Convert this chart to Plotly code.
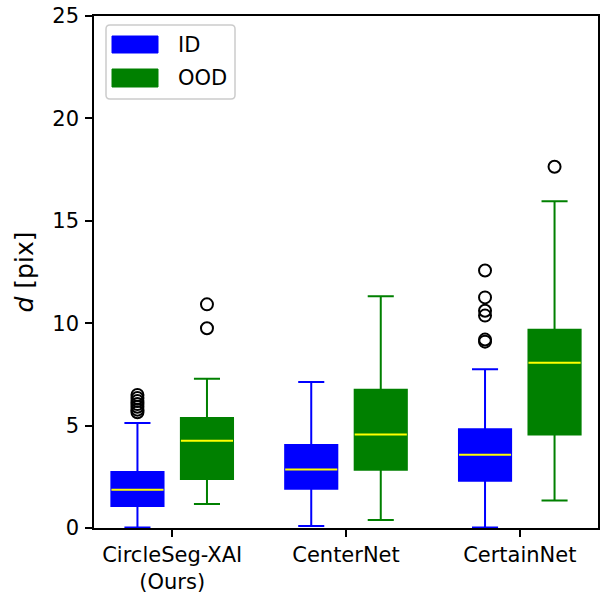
import plotly.graph_objects as go

# ---- data ----
groups = ["CircleSeg-XAI<br>(Ours)", "CenterNet", "CertainNet"]
positions = [1, 2, 3]

id_lower = [0.02, 0.10, 0.02]
id_q1 = [1.07, 1.92, 2.31]
id_med = [1.87, 2.86, 3.58]
id_q3 = [2.73, 4.05, 4.82]
id_upper = [5.13, 7.13, 7.75]
id_outliers = [[5.65, 5.78, 5.92, 6.05, 6.2, 6.35, 6.5], [], [9.1, 9.2, 10.37, 10.61, 11.26, 12.57]]

ood_lower = [1.17, 0.39, 1.34]
ood_q1 = [2.39, 2.85, 4.56]
ood_med = [4.26, 4.57, 8.07]
ood_q3 = [5.37, 6.75, 9.68]
ood_upper = [7.29, 11.31, 15.95]
ood_outliers = [[9.75, 10.92], [], [17.64]]

series = [
    dict(name="ID", color="#0000ff", offset=-0.2, lower=id_lower, q1=id_q1, med=id_med,
         q3=id_q3, upper=id_upper, out=id_outliers),
    dict(name="OOD", color="#008000", offset=0.2, lower=ood_lower, q1=ood_q1, med=ood_med,
         q3=ood_q3, upper=ood_upper, out=ood_outliers),
]
BOX_W = 0.3
FONT = "DejaVu Sans"
FS = 21

fig = go.Figure()
for s in series:
    xs = [p + s["offset"] for p in positions]
    fig.add_trace(go.Box(
        x=xs, q1=s["q1"], median=s["med"], q3=s["q3"],
        lowerfence=s["lower"], upperfence=s["upper"],
        width=BOX_W, whiskerwidth=0.5,
        fillcolor=s["color"], line=dict(color=s["color"], width=2),
        boxpoints=False, name=s["name"], showlegend=False,
    ))
    # yellow median lines
    mx, my = [], []
    for x, m in zip(xs, s["med"]):
        mx += [x - BOX_W / 2, x + BOX_W / 2, None]
        my += [m, m, None]
    fig.add_trace(go.Scatter(x=mx, y=my, mode="lines", line=dict(color="#ffff00", width=2),
                             showlegend=False, hoverinfo="skip"))
    # outliers
    ox, oy = [], []
    for x, vals in zip(xs, s["out"]):
        ox += [x] * len(vals)
        oy += vals
    fig.add_trace(go.Scatter(x=ox, y=oy, mode="markers",
                             marker=dict(symbol="circle-open", size=12, color="black",
                                         line=dict(width=2, color="black")),
                             showlegend=False))

W, H = 616, 594
L, R, T, B = 94, 18, 16, 66
PW, PH = float(W - L - R), float(H - T - B)

def px(xp):  # pixel x -> paper
    return (xp - L) / PW
def py(yp):  # pixel y -> paper
    return (H - B - yp) / PH

x0, x1, y0, y1 = px(106), px(235), py(99), py(25)
rx, ry = 4 / PW, 4 / PH
path = (f"M {x0+rx},{y0} L {x1-rx},{y0} Q {x1},{y0} {x1},{y0+ry} L {x1},{y1-ry} "
        f"Q {x1},{y1} {x1-rx},{y1} L {x0+rx},{y1} Q {x0},{y1} {x0},{y1-ry} "
        f"L {x0},{y0+ry} Q {x0},{y0} {x0+rx},{y0} Z")
shapes = [dict(type="path", xref="paper", yref="paper", path=path,
               fillcolor="rgba(255,255,255,0.8)", line=dict(color="#cccccc", width=1.5))]
annotations = []
for s, (ty0, ty1) in zip(series, [(36, 53), (69, 87)]):
    shapes.append(dict(type="rect", xref="paper", yref="paper",
                       x0=px(112), x1=px(158), y0=py(ty1), y1=py(ty0),
                       fillcolor=s["color"], line=dict(color=s["color"], width=1)))
    annotations.append(dict(xref="paper", yref="paper", x=px(176), y=py((ty0 + ty1) / 2),
                            text=s["name"], showarrow=False, xanchor="left", yanchor="middle",
                            font=dict(family=FONT, size=FS, color="black")))

fig.update_layout(
    width=W, height=H,
    margin=dict(l=L, r=R, t=T, b=B, autoexpand=False),
    paper_bgcolor="white", plot_bgcolor="white",
    font=dict(family=FONT, size=FS, color="black"),
    showlegend=False,
    shapes=shapes, annotations=annotations,
    xaxis=dict(range=[0.55, 3.45], tickmode="array", tickvals=positions, ticktext=groups,
               showgrid=False, zeroline=False, showline=True, mirror=True, automargin=False,
               linecolor="black", linewidth=1.6, ticks="outside", ticklen=7,
               tickwidth=1.6, tickcolor="black", ticklabeloverflow="allow"),
    yaxis=dict(range=[0, 25], tickmode="array", tickvals=[0, 5, 10, 15, 20, 25],
               showgrid=False, zeroline=False, showline=True, mirror=True, automargin=False,
               linecolor="black", linewidth=1.6, ticks="outside", ticklen=7,
               tickwidth=1.6, tickcolor="black", ticklabeloverflow="allow",
               ticklabelstandoff=2,
               title=dict(text="<i>d</i> [pix]", standoff=12)),
)

# remove the browser's default 8px body margin so the figure sits at the page corner
fig.write_html("out.html", config={"displayModeBar": False},
               post_script="document.body.style.margin='0';")
